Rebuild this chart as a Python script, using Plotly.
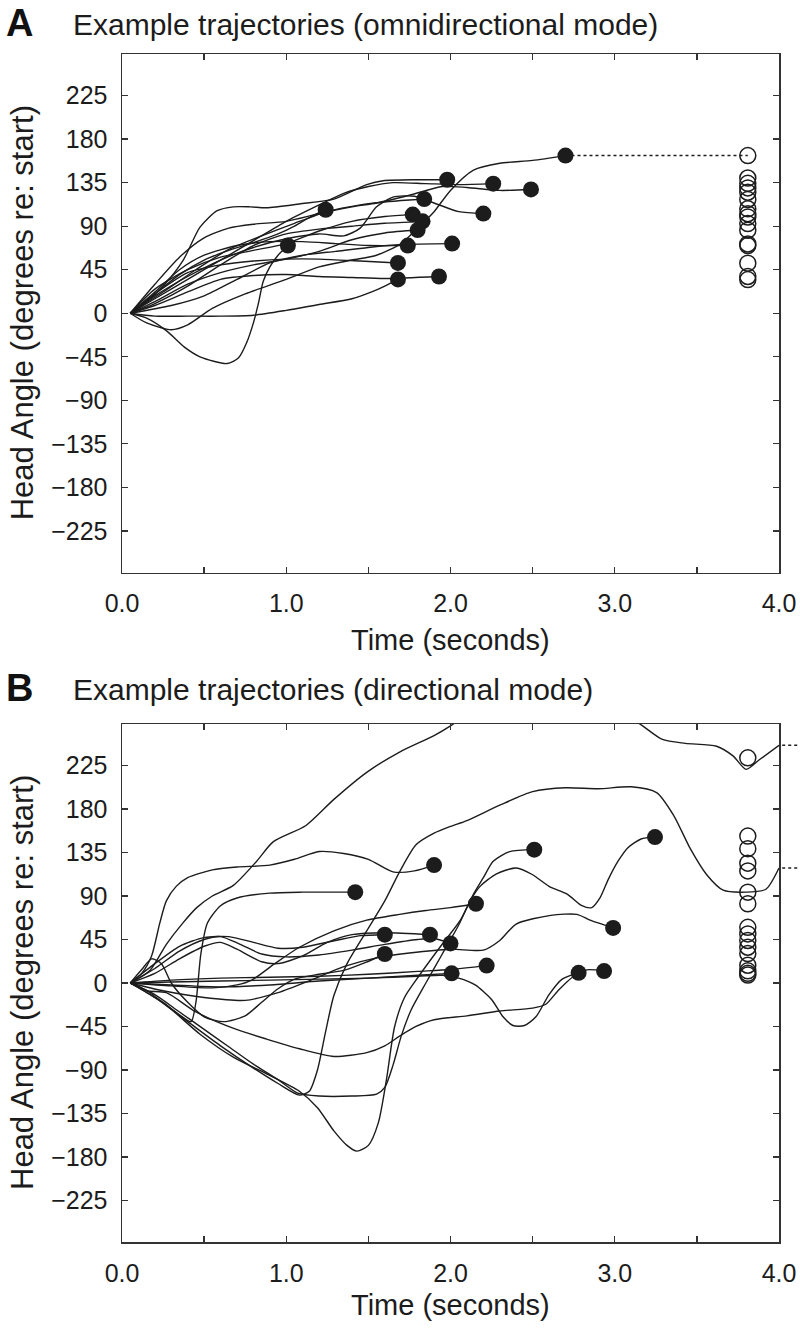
import plotly.graph_objects as go

# ---------------- Panel A: omnidirectional mode (time s, head angle deg) ----------------
a01_t = [0.05, 0.15, 0.27, 0.38, 0.475, 0.64, 0.71, 0.76, 0.8, 0.83, 0.86, 0.9, 0.95, 1.01]
a01_deg = [0, -5, -18, -35, -45, -52, -46, -30, -10, 10, 33, 48, 60, 70]
a02_t = [0.05, 0.2, 0.35, 0.5, 0.65, 0.8, 0.95, 1.05, 1.15, 1.24]
a02_deg = [0, 20, 40, 55, 65, 73, 82, 90, 100, 107]
a03_t = [0.05, 0.15, 0.25, 0.373, 0.475, 0.58, 0.678, 0.78, 0.88, 1.08, 1.29, 1.49, 1.59, 1.8, 1.98]
a03_deg = [0, 12, 28, 55, 89, 106, 110, 110, 109, 113, 118, 133, 137, 138, 138]
a04_t = [0.05, 0.2, 0.4, 0.6, 0.8, 1.0, 1.2, 1.35, 1.5, 1.65, 1.85, 2.05, 2.26]
a04_deg = [0, 15, 35, 55, 75, 95, 112, 124, 131, 135, 134, 133, 134]
a05_t = [0.05, 0.25, 0.45, 0.65, 0.85, 1.05, 1.25, 1.45, 1.6, 1.75, 1.84]
a05_deg = [0, 22, 45, 66, 80, 93, 105, 112, 115, 117, 118]
a06_t = [0.05, 0.2, 0.4, 0.6, 0.8, 1.0, 1.2, 1.4, 1.6, 1.77]
a06_deg = [0, 25, 45, 58, 65, 72, 85, 95, 100, 102]
a07_t = [0.05, 0.2, 0.4, 0.6, 0.8, 1.0, 1.2, 1.4, 1.6, 1.83]
a07_deg = [0, 10, 28, 50, 70, 82, 87, 90, 93, 95]
a08_t = [0.05, 0.2, 0.4, 0.6, 0.8, 1.0, 1.2, 1.4, 1.6, 1.8]
a08_deg = [0, 12, 30, 42, 50, 56, 64, 76, 83, 86]
a09_t = [0.05, 0.2, 0.4, 0.6, 0.8, 1.0, 1.2, 1.35, 1.45, 1.55, 1.65, 1.78, 1.9, 2.05, 2.2]
a09_deg = [0, 18, 38, 55, 68, 77, 82, 80, 88, 110, 120, 121, 114, 105, 103]
a10_t = [0.05, 0.2, 0.35, 0.5, 0.7, 0.9, 1.1, 1.3, 1.5, 1.74]
a10_deg = [0, 22, 45, 60, 70, 74, 74, 72, 70, 70]
a11_t = [0.05, 0.3, 0.5, 0.7, 0.9, 1.1, 1.3, 1.5, 1.7, 2.01]
a11_deg = [0, 8, 18, 35, 52, 60, 64, 68, 71, 72]
a12_t = [0.05, 0.2, 0.4, 0.6, 0.8, 1.0, 1.2, 1.45, 1.68]
a12_deg = [0, 20, 42, 50, 54, 56, 56, 54, 52]
a13_t = [0.05, 0.2, 0.4, 0.6, 0.8, 1.0, 1.2, 1.4, 1.52, 1.6, 1.68]
a13_deg = [0, -3, -3, -3, -2, 3, 9, 15, 22, 28, 35]
a14_t = [0.05, 0.2, 0.4, 0.6, 0.8, 1.0, 1.2, 1.4, 1.6, 1.93]
a14_deg = [0, 8, 22, 35, 39, 40, 38, 37, 36, 38]
a15_t = [0.05, 0.15, 0.3, 0.4, 0.55, 0.75, 1.0, 1.2, 1.4, 1.55, 1.7, 1.8, 1.9, 2.0, 2.14, 2.3, 2.5, 2.7]
a15_deg = [0, -10, -17, -12, 5, 20, 35, 48, 55, 60, 72, 88, 105, 127, 148, 155, 158, 163]
a16_t = [0.05, 0.2, 0.35, 0.5, 0.65, 0.8, 1.0, 1.2, 1.4, 1.55, 1.75, 1.95, 2.1, 2.3, 2.49]
a16_deg = [0, 30, 58, 78, 88, 92, 95, 103, 110, 114, 122, 131, 130, 127, 128]

omni_open_t = 3.81
omni_open_deg = [163, 139.8, 134.3, 129.6, 125.1, 117.6, 108, 102.9, 99.5, 92.7, 85.9, 71.6, 70, 51.8, 38, 34.8]

# ---------------- Panel B: directional mode ----------------
b01_t = [0.05, 0.15, 0.25, 0.35, 0.42, 0.45, 0.48, 0.52, 0.6, 0.7, 0.9, 1.1, 1.42]
b01_deg = [0, -8, -20, -33, -40, -20, 30, 62, 80, 88, 93, 94, 94]
b02_t = [0.05, 0.12, 0.18, 0.23, 0.27, 0.33, 0.4, 0.55, 0.7, 0.9, 1.05, 1.2, 1.35, 1.5, 1.65, 1.78, 1.9]
b02_deg = [0, 10, 28, 62, 85, 100, 109, 117, 120, 122, 128, 136, 134, 128, 115, 116, 122]
b03_t = [0.05, 0.17, 0.27, 0.37, 0.455, 0.55, 0.678, 0.82, 0.92, 1.12, 1.29, 1.49, 1.69, 1.9, 2.0,
         2.2, 2.6, 3.0, 3.17, 3.29, 3.43, 3.62, 3.72, 3.8, 3.88, 4.0]
b03_deg = [0, 13, 40, 62, 78, 90, 101, 126, 146, 163, 190, 218, 239, 256, 266,
           290, 310, 285, 266, 252, 248, 245, 235, 221, 231, 246]
b04_t = [0.05, 0.2, 0.35, 0.5, 0.65, 0.8, 0.95, 1.1, 1.3, 1.45, 1.6]
b04_deg = [0, 20, 38, 47, 48, 42, 36, 37, 44, 49, 50]
b05_t = [0.05, 0.2, 0.35, 0.5, 0.6, 0.7, 0.85, 0.95, 1.1, 1.25, 1.4, 1.6, 1.875]
b05_deg = [0, 10, 25, 38, 42, 35, 22, 20, 28, 42, 50, 52, 50]
b06_t = [0.05, 0.12, 0.18, 0.24, 0.3, 0.4, 0.5, 0.62, 0.75, 0.85, 0.95, 1.05, 1.2, 1.35, 1.48, 1.6]
b06_deg = [0, 14, 25, 20, 0, -20, -35, -40, -34, -20, -6, 4, 9, 13, 21, 30]
b07_t = [0.05, 0.15, 0.27, 0.475, 0.68, 0.88, 1.08, 1.19, 1.29, 1.37, 1.43, 1.5, 1.56, 1.61, 1.66,
         1.72, 1.79, 1.94, 2.06, 2.14, 2.2, 2.26, 2.36, 2.51]
b07_deg = [0, -10, -23, -53, -77, -94, -112, -129, -153, -168, -174, -168, -145, -100, -45,
           -15, 3, 38, 65, 92, 109, 126, 136, 138]
b08_t = [0.05, 0.2, 0.35, 0.5, 0.65, 0.8, 0.95, 1.07, 1.2, 1.4, 1.55, 1.6, 1.65, 1.7, 1.76, 1.85,
         1.95, 2.05, 2.12, 2.18, 2.28, 2.4, 2.5, 2.6, 2.71, 2.8, 2.86, 2.91, 2.96, 3.02, 3.08, 3.16, 3.245]
b08_deg = [0, -12, -30, -48, -66, -84, -100, -114, -117, -117, -115, -108, -85, -55, -28, 0,
           30, 60, 85, 100, 113, 119, 112, 100, 92, 80, 78, 88, 107, 126, 140, 149, 151]
b09_t = [0.05, 0.3, 0.55, 0.7, 0.79, 0.93, 1.08, 1.29, 1.49, 1.69, 1.85, 2.0, 2.155]
b09_deg = [0, -3, -5, -2, 3, 20, 37, 54, 65, 71, 75, 78, 82]
b10_t = [0.05, 0.2, 0.35, 0.5, 0.6, 0.72, 0.85, 1.0, 1.2, 1.4, 1.6, 1.8, 1.9, 2.0]
b10_deg = [0, 15, 33, 45, 48, 40, 30, 27, 29, 34, 40, 45, 46, 41]
b11_t = [0.05, 0.25, 0.5, 0.75, 0.95, 1.15, 1.35, 1.55, 1.75, 2.0, 2.2, 2.3, 2.4, 2.61, 2.77, 2.85, 2.99]
b11_deg = [0, -8, -15, -18, -10, 3, 17, 26, 31, 35, 34, 44, 61, 70, 71, 65, 57]
b12_t = [0.05, 0.3, 0.6, 0.9, 1.2, 1.5, 1.8, 2.0, 2.22]
b12_deg = [0, 3, 5, 6, 7, 9, 12, 14, 18]
b13_t = [0.05, 0.3, 0.6, 0.9, 1.2, 1.5, 1.8, 2.007]
b13_deg = [0, -2, -4, -2, 2, 5, 8, 10]
b14_t = [0.05, 0.3, 0.6, 0.9, 1.2, 1.5, 1.8, 1.95, 2.05, 2.15, 2.25, 2.32, 2.38, 2.45, 2.52, 2.6, 2.68, 2.78]
b14_deg = [0, 1, 2, 3, 4, 5, 7, 8, 5, -2, -17, -35, -44, -44, -35, -12, 4, 10.5]
b15_t = [0.05, 0.15, 0.27, 0.45, 0.68, 0.88, 1.08, 1.29, 1.49, 1.6, 1.69, 1.79, 1.9, 2.1, 2.3, 2.5,
         2.58, 2.66, 2.75, 2.83, 2.935]
b15_deg = [0, -8, -10, -30, -47, -58, -68, -76, -72, -65, -55, -45, -38, -34, -29, -26,
           -22, -7, 7, 13.6, 12.3]
b16_t = [0.05, 0.2, 0.4, 0.6, 0.8, 0.95, 1.08, 1.14, 1.19, 1.24, 1.29, 1.37, 1.49, 1.6, 1.69, 1.79,
         1.9, 2.0, 2.1, 2.3, 2.5, 2.7, 2.9, 3.1, 3.255, 3.36, 3.46, 3.56, 3.66, 3.8, 3.92, 4.0]
b16_deg = [0, -15, -40, -65, -88, -104, -116, -112, -90, -50, -13, 20, 54, 85, 115, 143,
           155, 162, 168, 184, 198, 202, 201, 203, 197, 173, 139, 112, 96, 94, 97, 119]

dir_open_t = 3.81
dir_open_deg = [233, 152, 139, 124, 116, 94, 82, 57.6, 50.8, 44, 37, 30.4, 18.4, 12.6, 10, 8.2]

omni = [(a01_t, a01_deg), (a02_t, a02_deg), (a03_t, a03_deg), (a04_t, a04_deg),
        (a05_t, a05_deg), (a06_t, a06_deg), (a07_t, a07_deg), (a08_t, a08_deg),
        (a09_t, a09_deg), (a10_t, a10_deg), (a11_t, a11_deg), (a12_t, a12_deg),
        (a13_t, a13_deg), (a14_t, a14_deg), (a15_t, a15_deg), (a16_t, a16_deg)]
dir_done = [(b01_t, b01_deg), (b02_t, b02_deg), (b04_t, b04_deg), (b05_t, b05_deg),
            (b06_t, b06_deg), (b07_t, b07_deg), (b08_t, b08_deg), (b09_t, b09_deg),
            (b10_t, b10_deg), (b11_t, b11_deg), (b12_t, b12_deg), (b13_t, b13_deg),
            (b14_t, b14_deg), (b15_t, b15_deg)]
dir_wrapped = [(b03_t, b03_deg), (b16_t, b16_deg)]

x_ticks = [0, 0.5, 1, 1.5, 2, 2.5, 3, 3.5, 4]
x_ticktext = ["0.0", "", "1.0", "", "2.0", "", "3.0", "", "4.0"]
y_ticks = [-225, -180, -135, -90, -45, 0, 45, 90, 135, 180, 225]

# ---------------- styling / layout ----------------
W, H = 800, 1328
INK = "#1c1c1c"
FONT = "Liberation Sans, Arial, sans-serif"
LINE_W = 1.4
DOT = 16
OPEN = 16

def px(x):
    return x / W

def py(y):
    return 1 - y / H

xdom = [px(122), px(779)]
ydomA = [py(572.5), py(54)]
ydomB = [py(1242), py(724)]
YR = [-268, 268]

fig = go.Figure()

def add_traj(t, d, xa, ya):
    fig.add_trace(go.Scatter(x=t, y=d, mode="lines", xaxis=xa, yaxis=ya,
                             line=dict(color=INK, width=LINE_W, shape="spline", smoothing=0.7),
                             hoverinfo="skip", showlegend=False))

# Panel A
for t, d in omni:
    add_traj(t, d, "x", "y")
fig.add_trace(go.Scatter(x=[a15_t[-1], omni_open_t], y=[a15_deg[-1], a15_deg[-1]], mode="lines",
                         xaxis="x", yaxis="y", line=dict(color=INK, width=1.6, dash="dot"),
                         showlegend=False, hoverinfo="skip"))
fig.add_trace(go.Scatter(x=[t[-1] for t, d in omni], y=[d[-1] for t, d in omni], mode="markers",
                         xaxis="x", yaxis="y",
                         marker=dict(size=DOT, color=INK, line=dict(width=0)), showlegend=False))
fig.add_trace(go.Scatter(x=[omni_open_t] * len(omni_open_deg), y=omni_open_deg, mode="markers",
                         xaxis="x", yaxis="y",
                         marker=dict(size=OPEN, symbol="circle-open", color=INK, line=dict(width=1.5)),
                         showlegend=False))

# Panel B
for t, d in dir_done + dir_wrapped:
    add_traj(t, d, "x2", "y2")
fig.add_trace(go.Scatter(x=[t[-1] for t, d in dir_done], y=[d[-1] for t, d in dir_done], mode="markers",
                         xaxis="x2", yaxis="y2",
                         marker=dict(size=DOT, color=INK, line=dict(width=0)), showlegend=False))
fig.add_trace(go.Scatter(x=[dir_open_t] * len(dir_open_deg), y=dir_open_deg, mode="markers",
                         xaxis="x2", yaxis="y2",
                         marker=dict(size=OPEN, symbol="circle-open", color=INK, line=dict(width=1.5)),
                         showlegend=False))
# dotted continuation beyond the right frame for wrapped trajectories
for t, d in dir_wrapped:
    fig.add_shape(type="line", xref="paper", yref="y2", x0=xdom[1] + 0.004, x1=1.0,
                  y0=d[-1], y1=d[-1], line=dict(color=INK, width=1.6, dash="dot"))

axis_common = dict(showgrid=False, zeroline=False, showline=True, mirror="ticks",
                   linecolor="#333333", linewidth=1.5, ticks="inside", ticklen=6, tickwidth=1.3,
                   tickcolor="#333333", tickfont=dict(family=FONT, size=25, color=INK),
                   automargin=False, fixedrange=True)

xa = dict(axis_common, range=[0, 4], domain=xdom, tickmode="array", tickvals=x_ticks,
          ticktext=x_ticktext, ticklabelstandoff=8)
ya = dict(axis_common, range=YR, tickmode="array", tickvals=y_ticks, ticklabelstandoff=8)

fig.update_layout(
    width=W, height=H, margin=dict(l=0, r=0, t=0, b=0),
    paper_bgcolor="white", plot_bgcolor="white", showlegend=False,
    xaxis=dict(xa, anchor="y"),
    yaxis=dict(ya, domain=ydomA, anchor="x"),
    xaxis2=dict(xa, anchor="y2"),
    yaxis2=dict(ya, domain=ydomB, anchor="x2"),
)

ann = []
for letter, title, ytop in [("A", "Example trajectories (omnidirectional mode)", 0),
                            ("B", "Example trajectories (directional mode)", 665)]:
    ann.append(dict(text=f"<b>{letter}</b>", x=px(19), y=py(ytop + 23), xref="paper", yref="paper",
                    xanchor="center", yanchor="middle", showarrow=False,
                    font=dict(family=FONT, size=38, color="#111111")))
    ann.append(dict(text=title, x=px(71), y=py(ytop + 24), xref="paper", yref="paper",
                    xanchor="left", yanchor="middle", showarrow=False,
                    font=dict(family=FONT, size=30, color=INK)))
for ycen, ytime in [(313.3, 640), (983, 1305)]:
    ann.append(dict(text="Time (seconds)", x=px(450.5), y=py(ytime), xref="paper", yref="paper",
                    xanchor="center", yanchor="middle", showarrow=False,
                    font=dict(family=FONT, size=29, color=INK)))
    ann.append(dict(text="Head Angle (degrees re: start)", x=px(22), y=py(ycen), xref="paper",
                    yref="paper", xanchor="center", yanchor="middle", textangle=-90,
                    showarrow=False, font=dict(family=FONT, size=31, color=INK)))
fig.update_layout(annotations=ann)

fig.write_html("out.html", config={"displayModeBar": False, "staticPlot": True},
               post_script="document.body.style.margin='0px';document.body.style.overflow='hidden';")
